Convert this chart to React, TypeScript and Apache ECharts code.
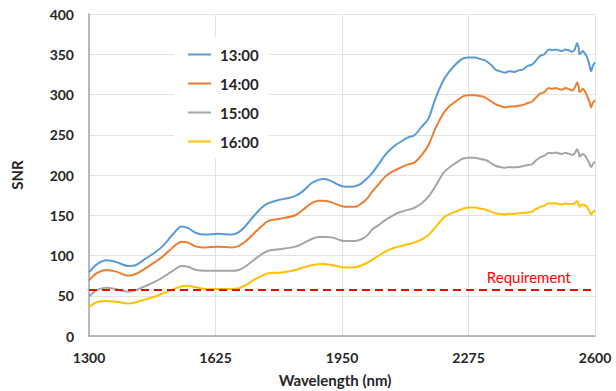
import React, { useEffect, useRef } from "react";
import * as echarts from "echarts";

const xTicks = [1300, 1625, 1950, 2275, 2600];
const legendNames = ["13:00", "14:00", "15:00", "16:00"];
const requirementValue = 57;

const snr1300: [number, number][] = [
  [1300,79],[1320,89],[1345,94],[1370,92],[1400,87],[1420,88],[1445,96],[1470,104],[1490,112],[1515,126],[1538,136],[1555,134],[1575,128],[1598,126],[1632,127],[1667,126],[1685,129],[1701,136],[1725,150],[1745,160],[1761,165],[1787,169],[1810,171],[1830,174],[1850,180],[1872,190],[1890,194],[1905,195],[1920,193],[1940,188],[1958,185.5],[1984,186],[2001,190],[2015,196],[2027,202],[2045,214],[2061,225],[2075,232],[2087,237],[2100,241],[2121,247],[2135,249],[2155,260],[2172,270],[2190,295],[2211,318],[2225,328],[2241,337],[2255,343],[2262,345],[2275,346],[2292,346],[2305,344],[2315,343],[2322,341],[2335,336],[2344,331],[2355,329],[2369,327],[2380,329],[2392,328],[2404,330],[2415,331],[2425,335],[2438,337],[2448,342],[2459,348],[2470,350],[2481,356],[2490,355],[2498,356],[2506,355],[2515,354],[2524,356],[2532,355],[2541,353],[2548,356],[2554,364],[2558,358],[2560,350],[2565,352],[2569,354],[2574,351],[2579,347],[2585,338],[2590,329],[2595,336],[2600,340]
];
const snr1400: [number, number][] = [
  [1300,69],[1320,78],[1345,82],[1370,80],[1400,75],[1420,77],[1445,84],[1470,92],[1490,99],[1515,110],[1538,117],[1555,116],[1575,111],[1598,110],[1632,111],[1667,110],[1685,112],[1701,117],[1725,128],[1745,137],[1761,143],[1795,146],[1830,150],[1850,157],[1872,165],[1890,168],[1905,168],[1924,166],[1945,162],[1958,160.5],[1984,160.5],[2001,165],[2015,171],[2027,179],[2045,189],[2061,198],[2075,203],[2087,206],[2100,209],[2121,213.5],[2135,215],[2155,225],[2172,237],[2190,258],[2211,277],[2225,285],[2241,291],[2255,296],[2262,298],[2275,299],[2292,299],[2305,298],[2315,297],[2322,295],[2335,291],[2344,288],[2355,286],[2369,284],[2380,285],[2392,285],[2404,286],[2415,287],[2425,289],[2438,291],[2448,296],[2459,301],[2470,303],[2481,308],[2490,307],[2498,308],[2506,307],[2515,306],[2524,308],[2532,307],[2541,305],[2548,308],[2554,315],[2558,310],[2560,303],[2565,305],[2569,307],[2574,304],[2579,299],[2585,292],[2590,284],[2595,290],[2600,293]
];
const snr1500: [number, number][] = [
  [1300,49],[1320,57],[1345,60],[1370,58],[1400,55],[1420,57],[1445,62],[1470,67.5],[1490,73],[1515,81],[1538,87],[1555,86],[1575,82],[1598,81],[1632,81],[1667,81],[1685,82],[1701,86],[1725,95],[1745,102],[1761,106],[1795,108],[1830,111],[1850,115],[1872,120.5],[1890,123],[1905,123],[1924,122.5],[1945,119],[1958,118],[1984,118],[2001,120.5],[2015,125],[2027,132],[2045,138],[2061,144],[2075,148],[2087,151.5],[2100,154],[2121,157],[2135,159],[2155,165],[2172,173],[2190,186],[2211,203],[2225,209],[2241,214.5],[2255,219],[2262,220.5],[2275,221.5],[2292,221.5],[2305,220],[2315,219],[2322,218],[2335,214],[2344,211.5],[2355,210],[2369,209],[2380,210],[2392,209.5],[2404,210],[2415,211],[2425,212],[2438,213.5],[2448,218],[2459,222],[2470,224],[2481,227.5],[2490,227],[2498,228],[2506,227],[2515,226],[2524,227.5],[2532,226.5],[2541,225],[2548,227],[2554,232],[2558,228],[2560,223],[2565,225],[2569,226],[2574,224],[2579,220.5],[2585,215],[2590,210],[2595,214],[2600,216.5]
];
const snr1600: [number, number][] = [
  [1300,36],[1320,42],[1345,43.5],[1370,42.5],[1400,40.5],[1420,42],[1445,45.5],[1470,49],[1490,53],[1516,58],[1546,62.5],[1570,61],[1598,58.5],[1632,58.5],[1667,58.5],[1685,59.5],[1701,62.5],[1725,70],[1745,75],[1761,78],[1795,79],[1830,82],[1850,85],[1872,88],[1902,89.5],[1924,88],[1945,86],[1958,85],[1984,85.3],[2001,88],[2015,91],[2027,94.5],[2045,100],[2061,104.7],[2075,108],[2087,110],[2100,111.5],[2121,114],[2135,116],[2155,120],[2172,125.5],[2190,135],[2211,147],[2225,151],[2241,154.5],[2255,157],[2262,158.5],[2275,159.5],[2292,159.5],[2305,158.5],[2315,157.5],[2322,156.5],[2335,154],[2344,152.5],[2355,151.5],[2369,151],[2380,152],[2392,151.5],[2404,152.5],[2415,153],[2425,153.5],[2438,154.5],[2448,157.5],[2459,160.5],[2470,162],[2481,165],[2490,164.5],[2498,165],[2506,164],[2515,163.5],[2524,164.5],[2532,164],[2541,164],[2548,165],[2554,167.5],[2558,164],[2560,160.5],[2565,162.5],[2569,163.5],[2574,162.5],[2579,160.5],[2585,156],[2590,151],[2595,154],[2600,156]
];

const seriesData = [snr1300, snr1400, snr1500, snr1600];
const colors = ["#5B9BD5", "#ED7D31", "#A5A5A5", "#FFC000"];
const FONT = "Lato, 'Open Sans', sans-serif";

export default function App() {
  const ref = useRef<HTMLDivElement>(null);
  useEffect(() => {
    if (!ref.current) return;
    const chart = echarts.init(ref.current, undefined, { renderer: "svg" });
    const series: any[] = legendNames.map((name, i) => ({
      name,
      type: "line",
      data: seriesData[i],
      smooth: 0.3,
      symbol: "none",
      lineStyle: { color: colors[i], width: 2 },
      itemStyle: { color: colors[i] },
      z: 3 + (3 - i),
    }));
    series[3].markLine = {
      silent: true,
      symbol: "none",
      data: [{ yAxis: requirementValue }],
      lineStyle: { color: "#FF0000", width: 2, type: [8, 5] },
      label: {
        show: true,
        position: "insideEndTop",
        formatter: "Requirement",
        color: "#FF0000",
        fontFamily: FONT,
        fontSize: 15,
        distance: [24, 6],
      },
    };
    chart.setOption({
      animation: false,
      backgroundColor: "#ffffff",
      grid: {
        left: 89,
        right: 21,
        top: 14,
        bottom: 55,
        containLabel: false,
        outerBoundsMode: "none",
      },
      legend: {
        data: legendNames,
        icon: "path://M0 0H46V4H0Z",
        orient: "vertical",
        left: 174,
        top: 38,
        padding: [9, 10, 9, 14],
        backgroundColor: "#ffffff",
        itemWidth: 23,
        itemHeight: 14,
        itemGap: 14,
        textStyle: {
          fontFamily: FONT,
          fontSize: 15,
          fontWeight: "bold",
          color: "#262626",
          padding: [0, 0, 0, 4],
        },
        z: 10,
      },
      xAxis: {
        type: "value",
        min: xTicks[0],
        max: xTicks[xTicks.length - 1],
        interval: xTicks[1] - xTicks[0],
        name: "Wavelength (nm)",
        nameLocation: "middle",
        nameGap: 36,
        nameMoveOverlap: false,
        nameTextStyle: {
          fontFamily: FONT,
          fontSize: 15,
          fontWeight: "bold",
          color: "#262626",
          padding: [0, 14, 0, 0],
        },
        axisLine: { show: true, lineStyle: { color: "#A6A6A6", width: 1.5 } },
        axisTick: { show: false },
        axisLabel: {
          fontFamily: FONT,
          fontSize: 14,
          fontWeight: "bold",
          color: "#262626",
          margin: 14,
          formatter: (v: number) => String(v),
        },
        splitLine: { show: true, lineStyle: { color: "#E3E3E3", width: 1 } },
      },
      yAxis: {
        type: "value",
        min: 0,
        max: 400,
        interval: 50,
        name: "SNR",
        nameLocation: "middle",
        nameGap: 65,
        nameRotate: 90,
        nameMoveOverlap: false,
        nameTextStyle: {
          fontFamily: FONT,
          fontSize: 15,
          fontWeight: "bold",
          color: "#262626",
        },
        axisLine: { show: true, lineStyle: { color: "#A6A6A6", width: 1.5 } },
        axisTick: { show: false },
        axisLabel: {
          fontFamily: FONT,
          fontSize: 14,
          fontWeight: "bold",
          color: "#262626",
          margin: 15,
        },
        splitLine: { show: true, lineStyle: { color: "#E3E3E3", width: 1 } },
      },
      series,
    });
    return () => chart.dispose();
  }, []);
  return (
    <div
      ref={ref}
      style={{ position: "fixed", left: 0, top: 0, width: 616, height: 391 }}
    />
  );
}
